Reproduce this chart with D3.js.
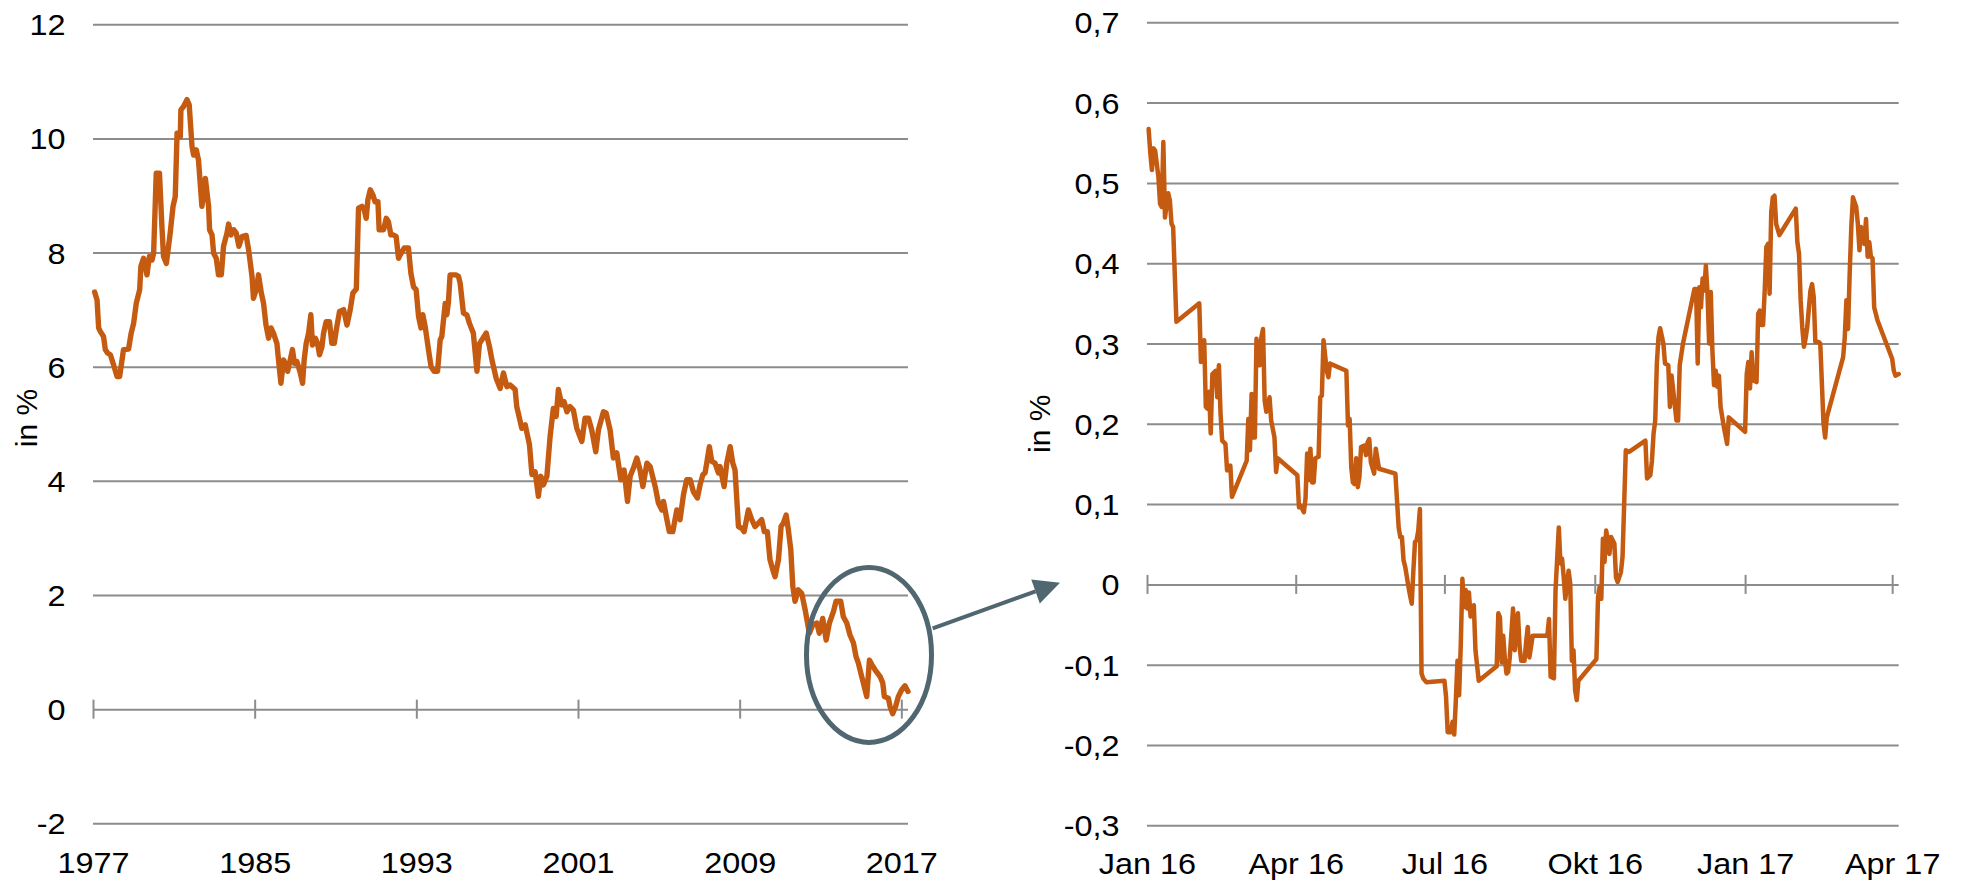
<!DOCTYPE html>
<html>
<head>
<meta charset="utf-8">
<script src="https://cdn.jsdelivr.net/npm/d3@7"></script>
<style>
html, body { margin: 0; padding: 0; background: #fff; }
svg { display: block; font-family: "Liberation Sans", Arial, sans-serif; }
</style>
</head>
<body>
<svg id="chart" width="1962" height="883"></svg>
<script>
// long history, monthly-ish readings (decimal years)
var longYears = [
  1977.08,1977.20,1977.28,1977.36,1977.52,1977.61,1977.72,1977.86,1978.02,1978.19,1978.32,1978.51,1978.76,1978.89,
  1979.01,1979.14,1979.31,1979.37,1979.50,1979.67,1979.79,1979.92,1980.00,1980.13,1980.29,1980.41,1980.49,1980.63,
  1980.82,1980.96,1981.07,1981.16,1981.32,1981.35,1981.48,1981.65,1981.76,1981.90,1981.98,1982.11,1982.22,1982.39,
  1982.56,1982.72,1982.77,1982.89,1982.97,1983.10,1983.21,1983.35,1983.46,1983.63,1983.71,1983.83,1983.96,1984.09,
  1984.22,1984.37,1984.58,1984.70,1984.87,1984.94,1985.08,1985.19,1985.33,1985.44,1985.56,1985.69,1985.81,1985.93,
  1986.10,1986.18,1986.30,1986.43,1986.51,1986.63,1986.76,1986.87,1986.97,1987.09,1987.26,1987.37,1987.45,1987.55,
  1987.67,1987.78,1987.86,1988.00,1988.11,1988.21,1988.33,1988.41,1988.54,1988.70,1988.82,1988.94,1989.04,1989.20,
  1989.40,1989.57,1989.73,1989.86,1990.03,1990.14,1990.31,1990.42,1990.52,1990.60,1990.72,1990.85,1990.96,1991.10,
  1991.16,1991.38,1991.51,1991.62,1991.74,1991.87,1992.00,1992.12,1992.20,1992.40,1992.61,1992.73,1992.86,1992.99,
  1993.11,1993.23,1993.32,1993.44,1993.60,1993.73,1993.88,1994.05,1994.18,1994.26,1994.43,1994.51,1994.59,1994.67,
  1994.97,1995.09,1995.17,1995.33,1995.50,1995.63,1995.75,1995.82,1996.00,1996.12,1996.24,1996.46,1996.62,1996.74,
  1996.95,1997.15,1997.31,1997.48,1997.64,1997.89,1997.97,1998.22,1998.39,1998.60,1998.72,1998.88,1999.04,1999.16,
  1999.29,1999.46,1999.62,1999.78,1999.92,2000.03,2000.20,2000.31,2000.45,2000.61,2000.77,2000.94,2001.19,2001.35,
  2001.52,2001.68,2001.88,2002.01,2002.26,2002.39,2002.59,2002.75,2002.92,2003.12,2003.28,2003.45,2003.58,2003.74,
  2003.91,2004.07,2004.21,2004.41,2004.57,2004.82,2004.98,2005.15,2005.23,2005.40,2005.52,2005.69,2005.89,2006.05,
  2006.22,2006.38,2006.55,2006.71,2006.91,2007.04,2007.18,2007.29,2007.37,2007.50,2007.62,2007.78,2007.95,2008.03,
  2008.23,2008.36,2008.53,2008.66,2008.77,2008.94,2009.10,2009.22,2009.43,2009.60,2009.76,2009.93,2010.09,2010.22,
  2010.37,2010.50,2010.64,2010.75,2010.92,2011.05,2011.16,2011.30,2011.41,2011.53,2011.63,2011.74,2011.90,2012.07,
  2012.24,2012.45,2012.62,2012.82,2012.94,2013.11,2013.28,2013.44,2013.64,2013.77,2013.88,2014.00,2014.13,2014.30,
  2014.46,2014.63,2014.76,2014.87,2015.04,2015.29,2015.42,2015.54,2015.70,2015.95,2016.08,2016.16,2016.36,2016.44,
  2016.57,2016.72,2016.85,2017.02,2017.18,2017.33
];
var longValues = [
  7.31,7.17,6.68,6.62,6.53,6.30,6.24,6.21,6.03,5.83,5.83,6.30,6.31,6.59,
  6.76,7.11,7.35,7.76,7.90,7.61,7.93,7.87,7.99,9.39,9.39,8.46,7.93,7.81,
  8.34,8.81,8.98,10.09,10.03,10.50,10.56,10.68,10.59,9.86,9.71,9.80,9.62,8.81,
  9.30,8.81,8.40,8.31,7.99,7.90,7.61,7.61,8.11,8.34,8.50,8.31,8.40,8.34,
  8.11,8.28,8.30,8.05,7.58,7.20,7.35,7.61,7.29,7.11,6.73,6.50,6.68,6.59,
  6.41,6.12,5.71,6.12,6.06,5.92,6.12,6.30,6.06,6.09,5.89,5.71,6.12,6.41,
  6.59,6.91,6.38,6.50,6.41,6.21,6.35,6.59,6.79,6.79,6.41,6.41,6.65,6.97,
  7.00,6.73,7.00,7.29,7.36,8.78,8.81,8.75,8.60,8.92,9.10,9.01,8.89,8.89,
  8.40,8.40,8.60,8.54,8.31,8.31,8.28,7.90,7.96,8.08,8.08,7.64,7.40,7.35,
  6.88,6.68,6.91,6.70,6.30,6.00,5.92,5.92,6.47,6.53,7.11,6.91,7.14,7.61,
  7.61,7.58,7.46,6.94,6.91,6.76,6.65,6.59,5.92,6.40,6.47,6.59,6.35,6.12,
  5.80,5.62,5.89,5.65,5.68,5.60,5.30,4.92,4.98,4.63,4.11,4.16,3.73,4.08,
  3.93,4.08,4.78,5.27,5.13,5.60,5.33,5.39,5.21,5.30,5.24,4.92,4.69,5.10,
  5.10,4.89,4.51,4.89,5.21,5.19,4.89,4.40,4.49,4.02,4.19,3.64,4.08,4.22,
  4.40,4.19,3.90,4.31,4.25,3.90,3.61,3.49,3.64,3.32,3.11,3.11,3.49,3.32,
  3.76,4.02,4.02,3.81,3.70,3.93,4.11,4.14,4.31,4.60,4.34,4.31,4.14,4.25,
  3.90,4.31,4.60,4.31,4.19,3.20,3.17,3.11,3.49,3.32,3.20,3.26,3.32,3.11,
  3.11,2.62,2.44,2.32,2.62,3.20,3.26,3.40,3.14,2.79,2.15,1.89,2.09,2.03,
  1.74,1.33,1.48,1.51,1.33,1.59,1.21,1.51,1.71,1.89,1.89,1.89,1.62,1.51,
  1.30,1.16,0.92,0.81,0.57,0.22,0.86,0.78,0.69,0.57,0.46,0.22,0.19,0.05,
  -0.08,0.05,0.22,0.34,0.41,0.31
];
var longTicksX = [1977, 1985, 1993, 2001, 2009, 2017];
var longTicksY = [-2, 0, 2, 4, 6, 8, 10, 12];

// zoomed period, daily readings
var shortDates = [
  "2016-01-02","2016-01-03","2016-01-04","2016-01-05","2016-01-06","2016-01-08","2016-01-09","2016-01-10","2016-01-11","2016-01-12",
  "2016-01-14","2016-01-15","2016-01-16","2016-01-17","2016-01-19","2016-02-02","2016-02-03","2016-02-05","2016-02-06","2016-02-07",
  "2016-02-08","2016-02-09","2016-02-10","2016-02-12","2016-02-13","2016-02-14","2016-02-15","2016-02-16","2016-02-18","2016-02-19",
  "2016-02-21","2016-02-22","2016-03-02","2016-03-03","2016-03-04","2016-03-05","2016-03-06","2016-03-07","2016-03-08","2016-03-10",
  "2016-03-11","2016-03-12","2016-03-13","2016-03-14","2016-03-16","2016-03-17","2016-03-19","2016-03-20","2016-03-21","2016-04-02",
  "2016-04-03","2016-04-04","2016-04-06","2016-04-07","2016-04-08","2016-04-09","2016-04-10","2016-04-11","2016-04-12","2016-04-13",
  "2016-04-15","2016-04-16","2016-04-17","2016-04-18","2016-04-20","2016-04-21","2016-04-22","2016-05-02","2016-05-03","2016-05-04",
  "2016-05-05","2016-05-06","2016-05-07","2016-05-08","2016-05-09","2016-05-10","2016-05-11","2016-05-13","2016-05-14","2016-05-15",
  "2016-05-16","2016-05-17","2016-05-19","2016-05-20","2016-05-22","2016-06-01","2016-06-03","2016-06-04","2016-06-05","2016-06-06",
  "2016-06-07","2016-06-09","2016-06-10","2016-06-11","2016-06-12","2016-06-13","2016-06-14","2016-06-15","2016-06-16","2016-06-17",
  "2016-06-18","2016-06-20","2016-07-01","2016-07-02","2016-07-03","2016-07-05","2016-07-06","2016-07-07","2016-07-08","2016-07-09",
  "2016-07-10","2016-07-11","2016-07-12","2016-07-13","2016-07-14","2016-07-15","2016-07-16","2016-07-17","2016-07-19","2016-07-20",
  "2016-07-22","2016-08-02","2016-08-03","2016-08-04","2016-08-05","2016-08-06","2016-08-07","2016-08-08","2016-08-09","2016-08-10",
  "2016-08-12","2016-08-13","2016-08-14","2016-08-15","2016-08-16","2016-08-17","2016-08-19","2016-08-20","2016-08-21","2016-08-22",
  "2016-08-24","2016-09-02","2016-09-03","2016-09-04","2016-09-06","2016-09-07","2016-09-09","2016-09-10","2016-09-11","2016-09-12",
  "2016-09-13","2016-09-15","2016-09-16","2016-09-17","2016-09-18","2016-09-19","2016-09-20","2016-09-21","2016-10-02","2016-10-03",
  "2016-10-04","2016-10-05","2016-10-06","2016-10-07","2016-10-08","2016-10-09","2016-10-10","2016-10-11","2016-10-13","2016-10-14",
  "2016-10-15","2016-10-17","2016-10-18","2016-10-19","2016-10-20","2016-10-22","2016-11-01","2016-11-02","2016-11-04","2016-11-05",
  "2016-11-06","2016-11-07","2016-11-08","2016-11-09","2016-11-10","2016-11-12","2016-11-13","2016-11-15","2016-11-16","2016-11-17",
  "2016-11-18","2016-11-20","2016-11-21","2016-11-22","2016-11-24","2016-12-01","2016-12-02","2016-12-03","2016-12-04","2016-12-05",
  "2016-12-06","2016-12-07","2016-12-08","2016-12-09","2016-12-10","2016-12-11","2016-12-12","2016-12-13","2016-12-14","2016-12-15",
  "2016-12-16","2016-12-17","2016-12-19","2016-12-21","2016-12-22","2017-01-01","2017-01-02","2017-01-03","2017-01-04","2017-01-05",
  "2017-01-06","2017-01-08","2017-01-09","2017-01-10","2017-01-11","2017-01-12","2017-01-13","2017-01-14","2017-01-15","2017-01-16",
  "2017-01-17","2017-01-18","2017-01-19","2017-01-20","2017-01-22","2017-02-01","2017-02-02","2017-02-03","2017-02-04","2017-02-05",
  "2017-02-06","2017-02-07","2017-02-08","2017-02-10","2017-02-11","2017-02-12","2017-02-13","2017-02-15","2017-02-16","2017-02-17",
  "2017-02-18","2017-02-19","2017-02-20","2017-03-02","2017-03-03","2017-03-04","2017-03-05","2017-03-06","2017-03-07","2017-03-08",
  "2017-03-10","2017-03-11","2017-03-12","2017-03-13","2017-03-14","2017-03-15","2017-03-16","2017-03-17","2017-03-18","2017-03-19",
  "2017-03-20","2017-03-21","2017-03-23","2017-04-01","2017-04-02","2017-04-03","2017-04-05"
];
var shortValues = [
  0.567,0.538,0.516,0.543,0.540,0.507,0.474,0.470,0.551,0.457,
  0.487,0.478,0.449,0.445,0.327,0.350,0.277,0.304,0.221,0.219,
  0.240,0.188,0.262,0.266,0.233,0.273,0.213,0.179,0.175,0.142,
  0.148,0.109,0.154,0.206,0.167,0.237,0.183,0.183,0.306,0.273,
  0.308,0.318,0.229,0.215,0.233,0.204,0.183,0.140,0.157,0.136,
  0.096,0.098,0.090,0.107,0.163,0.130,0.169,0.127,0.127,0.157,
  0.159,0.233,0.235,0.304,0.266,0.258,0.275,0.266,0.198,0.206,
  0.146,0.127,0.125,0.157,0.121,0.134,0.171,0.173,0.161,0.177,
  0.181,0.152,0.138,0.169,0.144,0.138,0.071,0.059,0.059,0.030,
  0.022,-0.003,-0.014,-0.024,0.017,0.053,0.055,0.067,0.094,-0.111,
  -0.117,-0.122,-0.120,-0.140,-0.184,-0.184,-0.171,-0.187,-0.144,-0.095,
  -0.138,-0.076,0.007,-0.028,-0.007,-0.030,-0.010,-0.040,-0.026,-0.082,
  -0.120,-0.102,-0.036,-0.041,-0.097,-0.064,-0.093,-0.111,-0.109,-0.091,
  -0.030,-0.082,-0.047,-0.036,-0.078,-0.095,-0.095,-0.072,-0.053,-0.091,
  -0.064,-0.064,-0.043,-0.115,-0.117,-0.007,0.071,0.026,0.032,0.009,
  -0.018,0.017,0.001,-0.095,-0.082,-0.132,-0.144,-0.120,-0.093,-0.016,
  -0.003,-0.018,0.057,0.028,0.067,0.055,0.038,0.059,0.051,0.009,
  0.003,0.015,0.034,0.100,0.167,0.165,0.179,0.132,0.136,0.154,
  0.188,0.204,0.275,0.308,0.319,0.300,0.275,0.273,0.221,0.260,
  0.242,0.204,0.204,0.273,0.300,0.368,0.368,0.275,0.370,0.345,
  0.381,0.366,0.397,0.362,0.300,0.364,0.291,0.248,0.266,0.246,
  0.260,0.221,0.196,0.175,0.208,0.190,0.262,0.277,0.244,0.289,
  0.254,0.252,0.337,0.341,0.323,0.323,0.366,0.420,0.424,0.362,
  0.464,0.482,0.484,0.449,0.435,0.468,0.426,0.412,0.354,0.320,
  0.296,0.306,0.320,0.366,0.374,0.358,0.302,0.302,0.300,0.250,
  0.200,0.183,0.208,0.283,0.308,0.354,0.318,0.387,0.445,0.482,
  0.470,0.449,0.416,0.445,0.439,0.424,0.455,0.408,0.426,0.408,
  0.406,0.345,0.329,0.281,0.266,0.260,0.262
];
var shortTicksX = ["2016-01-01", "2016-04-01", "2016-07-01", "2016-10-01", "2017-01-01", "2017-04-01"];
var shortTicksY = [-0.3, -0.2, -0.1, 0, 0.1, 0.2, 0.3, 0.4, 0.5, 0.6, 0.7];

var ORANGE = "#c55a11", GRID = "#8c8c8c", SLATE = "#506670";
var TEXT_STRETCH = "scale(1.08,1)";

var deNum = d3.formatLocale({decimal: ",", thousands: ".", grouping: [3], currency: ["", " €"], minus: "-"});
var deTime = d3.timeFormatLocale({
  dateTime: "%A, der %e. %B %Y, %X", date: "%d.%m.%Y", time: "%H:%M:%S", periods: ["AM", "PM"],
  days: ["Sonntag", "Montag", "Dienstag", "Mittwoch", "Donnerstag", "Freitag", "Samstag"],
  shortDays: ["So", "Mo", "Di", "Mi", "Do", "Fr", "Sa"],
  months: ["Januar", "Februar", "März", "April", "Mai", "Juni", "Juli", "August", "September", "Oktober", "November", "Dezember"],
  shortMonths: ["Jan", "Feb", "Mär", "Apr", "Mai", "Jun", "Jul", "Aug", "Sep", "Okt", "Nov", "Dez"]
});
var parseDay = d3.utcParse("%Y-%m-%d");

var svg = d3.select("#chart");

function panel(o) {
  var g = svg.append("g");
  var x = o.x, y = o.y;
  var x0 = x.range()[0], x1 = x.range()[1];

  // gridlines + y labels
  var gy = g.append("g")
    .attr("transform", "translate(" + x0 + ",0)")
    .call(d3.axisLeft(y).tickValues(o.yTicks).tickFormat(o.yFormat)
      .tickSizeInner(-(x1 - x0)).tickSizeOuter(0).tickPadding(o.yPad));
  gy.attr("font-size", null).attr("font-family", null);
  gy.select(".domain").remove();
  gy.selectAll("line").attr("stroke", GRID).attr("stroke-width", 2);
  gy.selectAll("text").attr("font-size", 30).attr("fill", "#000").attr("dy", "0.35em")
    .attr("transform", TEXT_STRETCH);

  // tick marks crossing the zero line
  var gt = g.append("g")
    .attr("transform", "translate(0," + y(0) + ")")
    .call(d3.axisBottom(x).tickValues(o.xTicks).tickFormat("").tickSizeOuter(0));
  gt.select(".domain").remove();
  gt.selectAll("line").attr("y1", -9.5).attr("y2", 9.5).attr("stroke", GRID).attr("stroke-width", 2);

  // x labels sit at the bottom of the panel
  var gl = g.append("g")
    .attr("transform", "translate(0," + o.labelY + ")")
    .call(d3.axisBottom(x).tickValues(o.xTicks).tickFormat(o.xFormat).tickSize(0).tickPadding(0));
  gl.attr("font-size", null).attr("font-family", null);
  gl.select(".domain").remove();
  gl.selectAll("text").attr("y", 0).attr("dy", null).attr("font-size", 30).attr("fill", "#000")
    .attr("transform", TEXT_STRETCH);

  // axis title
  g.append("text")
    .attr("transform", "translate(" + o.titleX + "," + (y(o.titleAt)) + ") rotate(-90)")
    .attr("text-anchor", "middle").attr("font-size", 30).attr("fill", "#000")
    .text("in %");

  var line = d3.line().x(function(d) { return x(d[0]); }).y(function(d) { return y(d[1]); });
  g.append("path").datum(o.points)
    .attr("d", line).attr("fill", "none")
    .attr("stroke", ORANGE).attr("stroke-width", o.lineWidth)
    .attr("stroke-linejoin", "round").attr("stroke-linecap", "round");
  return g;
}

var xL = d3.scaleLinear().domain([1977, 2017.33]).range([93, 908]);
var yL = d3.scaleLinear().domain([-2, 12]).range([823.3, 24.3]);
panel({
  x: xL, y: yL,
  xTicks: longTicksX, yTicks: longTicksY,
  xFormat: d3.format("d"), yFormat: deNum.format("d"),
  yPad: 25.5, labelY: 872.7, titleX: 36.7, titleAt: 5.1,
  lineWidth: 5.4,
  points: longYears.map(function(t, i) { return [t, longValues[i]]; })
});

var xR = d3.scaleUtc().domain([parseDay("2016-01-01"), parseDay("2017-04-05")]).range([1147, 1898.7]);
var yR = d3.scaleLinear().domain([-0.3, 0.7]).range([825.3, 22.3]);
panel({
  x: xR, y: yR,
  xTicks: shortTicksX.map(parseDay), yTicks: shortTicksY,
  xFormat: deTime.utcFormat("%b %y"), yFormat: deNum.format(".1~f"),
  yPad: 25.5, labelY: 874.3, titleX: 1050, titleAt: 0.2,
  lineWidth: 4.5,
  points: shortDates.map(function(s, i) { return [parseDay(s), shortValues[i]]; })
});

// highlight of the recent years and the arrow towards the zoomed panel
var hl = svg.append("g");
hl.append("ellipse")
  .attr("cx", xL(2015.4)).attr("cy", yL(0.95)).attr("rx", 62.5).attr("ry", 87.5)
  .attr("fill", "none").attr("stroke", SLATE).attr("stroke-width", 5);

var a0 = [932.7, 628.3], tip = [1060, 582.7];
var dx = tip[0] - a0[0], dy = tip[1] - a0[1], len = Math.sqrt(dx * dx + dy * dy);
var ux = dx / len, uy = dy / len, headL = 26, headW = 12.7;
var base = [tip[0] - ux * headL, tip[1] - uy * headL];
hl.append("line")
  .attr("x1", a0[0]).attr("y1", a0[1]).attr("x2", base[0]).attr("y2", base[1])
  .attr("stroke", SLATE).attr("stroke-width", 4);
hl.append("path")
  .attr("d", "M" + tip + "L" + [base[0] - uy * headW, base[1] + ux * headW] + "L" + [base[0] + uy * headW, base[1] - ux * headW] + "Z")
  .attr("fill", SLATE);
</script>
</body>
</html>
